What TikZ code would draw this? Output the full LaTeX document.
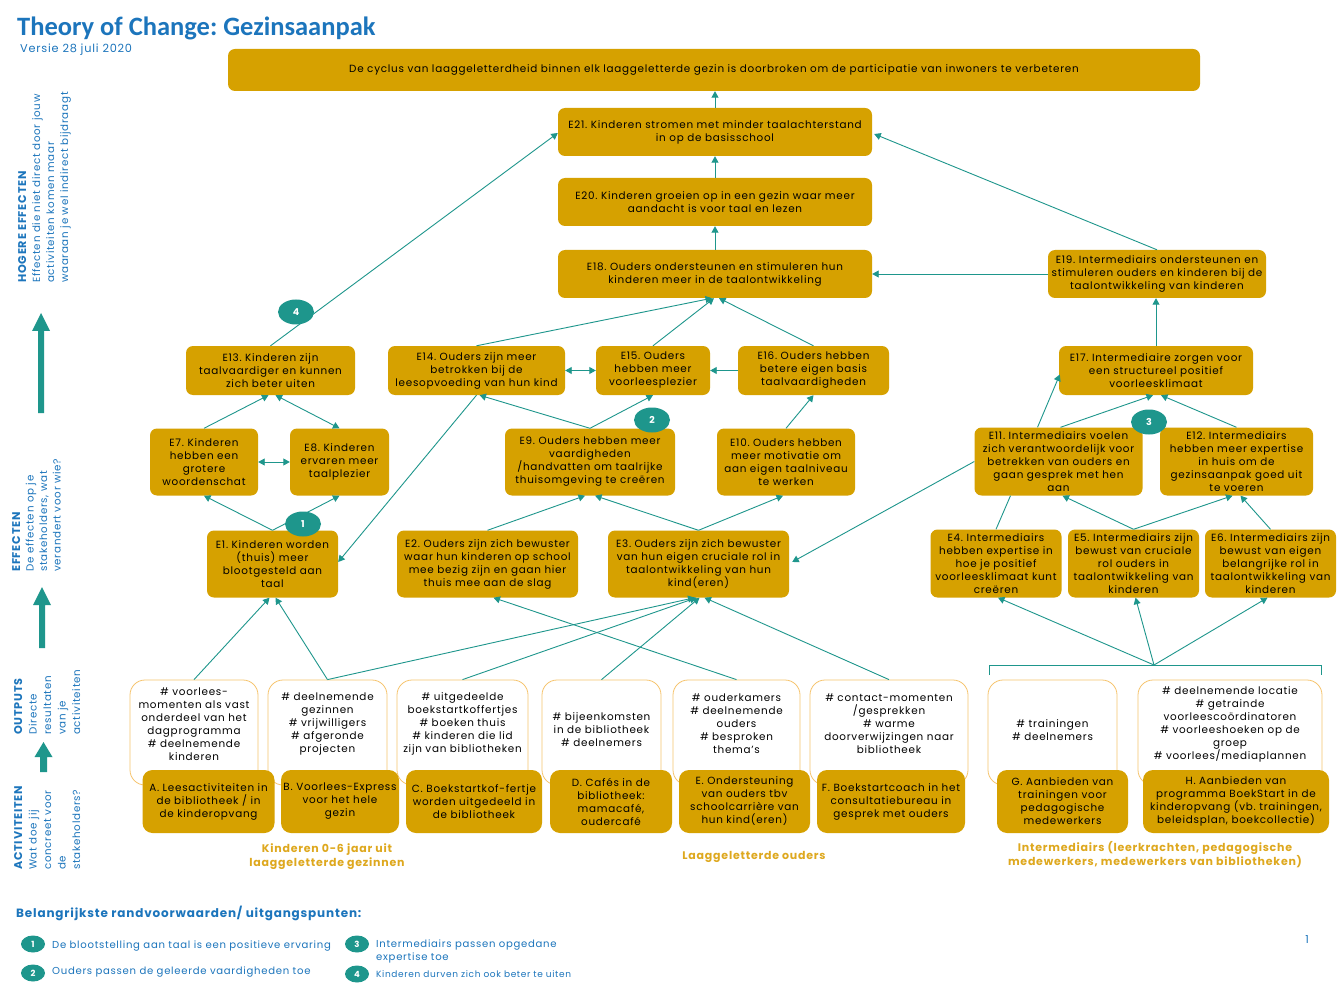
\documentclass[tikz,border=0pt]{standalone}
\usepackage{fontspec}
\setmainfont{Poppins}[LetterSpace=7]
\newfontfamily\titlefont{Carlito}
\usetikzlibrary{arrows.meta,calc,shapes.geometric}
\definecolor{gold}{RGB}{214,161,0}
\definecolor{tealc}{RGB}{30,150,140}
\definecolor{blueT}{RGB}{28,117,188}
\definecolor{oborder}{RGB}{246,196,110}
\definecolor{glabel}{RGB}{222,168,30}
\frenchspacing
\begin{document}
\begin{tikzpicture}[x=1pt,y=-1pt,
  gbox/.style={fill=gold, rounded corners=7pt, align=center, inner sep=0pt, text=black, font=\fontsize{10.4}{13}\selectfont},
  abox/.style={gbox, rounded corners=10pt},
  obox/.style={draw=oborder, line width=0.8pt, fill=white, rounded corners=15pt, inner sep=0pt},
  otext/.style={align=center, inner sep=0pt, font=\fontsize{10.4}{13}\selectfont},
  con/.style={draw=tealc, line width=0.9pt, -{Triangle[length=6.5pt,width=7pt]}},
  contwo/.style={draw=tealc, line width=0.9pt, {Triangle[length=6.5pt,width=7pt]}-{Triangle[length=6.5pt,width=7pt]}},
  plainline/.style={draw=tealc, line width=0.9pt},
  num/.style={ellipse, fill=tealc, text=white, font=\bfseries\fontsize{9.5}{9.5}\selectfont, minimum width=36pt, minimum height=25pt, inner sep=0pt},
  lnum/.style={ellipse, fill=tealc, text=white, font=\bfseries\fontsize{8.5}{8.5}\selectfont, minimum width=24pt, minimum height=17pt, inner sep=0pt},
  sidelbl/.style={rotate=90, anchor=north west, align=left, inner sep=0pt, text=blueT},
  grp/.style={align=center, inner sep=0pt, text=glabel, font=\bfseries\fontsize{11}{14.5}\selectfont},
  legtxt/.style={anchor=base west, inner sep=0pt, text=blueT, align=left, font=\fontsize{10.1}{13}\selectfont}
]
\useasboundingbox (0,0) rectangle (1344,1008);
\fill[white] (0,0) rectangle (1344,1008);

% ---------- titles ----------
\node[anchor=base west, inner sep=0pt, text=blueT, font=\titlefont\bfseries\fontsize{26.5}{26.5}\selectfont] (title) at (17,36) {Theory of Change: Gezinsaanpak};
\node[anchor=base west, inner sep=0pt, text=blueT, font=\fontsize{11.3}{11.3}\selectfont] (versie) at (20,53) {Versie 28 juli 2020};

% ---------- side labels ----------
\node[sidelbl, font=\fontsize{10.3}{14}\selectfont] (lblH) at (18,283) {{\fontsize{11.2}{14}\selectfont\bfseries HOGERE EFFECTEN}\\Effecten die niet direct door jouw\\activiteiten komen maar\\waaraan je wel indirect bijdraagt};
\node[sidelbl, font=\fontsize{10.3}{13.5}\selectfont] (lblE) at (12,572) {{\fontsize{11.2}{13.5}\selectfont\bfseries EFFECTEN}\\De effecten op je\\stakeholders, wat\\verandert voor wie?};
\node[sidelbl, font=\fontsize{10.3}{14.5}\selectfont] (lblO) at (14,735) {{\fontsize{11.2}{14.5}\selectfont\bfseries OUTPUTS}\\Directe\\resultaten\\van je\\activiteiten};
\node[sidelbl, font=\fontsize{10.3}{14.5}\selectfont] (lblA) at (14,870) {{\fontsize{11.2}{14.5}\selectfont\bfseries ACTIVITEITEN}\\Wat doe jij\\concreet voor\\de\\stakeholders?};

\fill[tealc] (38,413) -- (38,331) -- (32,331) -- (41,313) -- (50,331) -- (44,331) -- (44,413) -- cycle;
\fill[tealc] (39,648) -- (39,605) -- (33,605) -- (42,587) -- (51,605) -- (45,605) -- (45,648) -- cycle;
\fill[tealc] (40,772) -- (40,757) -- (34.5,757) -- (43.5,742) -- (52.5,757) -- (47,757) -- (47,772) -- cycle;

% ---------- higher effects ----------
\node[gbox, minimum width=972pt, minimum height=42pt] (top) at (714,70) {De cyclus van laaggeletterdheid binnen elk laaggeletterde gezin is doorbroken om de participatie van inwoners te verbeteren};
\node[gbox, minimum width=314pt, minimum height=48pt] (E21) at (715,132) {E21. Kinderen stromen met minder taalachterstand\\in op de basisschool};
\node[gbox, minimum width=314pt, minimum height=48pt] (E20) at (715,202) {E20. Kinderen groeien op in een gezin waar meer\\aandacht is voor taal en lezen};
\node[gbox, minimum width=314pt, minimum height=48pt] (E18) at (715,274) {E18. Ouders ondersteunen en stimuleren hun\\kinderen meer in de taalontwikkeling};
\node[gbox, minimum width=218pt, minimum height=48pt] (E19) at (1157,274) {E19. Intermediairs ondersteunen en\\stimuleren ouders en kinderen bij de\\taalontwikkeling van kinderen};

% ---------- effects ----------
\node[gbox, minimum width=169pt, minimum height=49pt] (E13) at (270.5,370.5) {E13. Kinderen zijn\\taalvaardiger en kunnen\\zich beter uiten};
\node[gbox, minimum width=177pt, minimum height=49pt] (E14) at (476.5,370.5) {E14. Ouders zijn meer\\betrokken bij de\\leesopvoeding van hun kind};
\node[gbox, minimum width=114pt, minimum height=49pt] (E15) at (653,370.5) {E15. Ouders\\hebben meer\\voorleesplezier};
\node[gbox, minimum width=151pt, minimum height=49pt] (E16) at (813.5,370.5) {E16. Ouders hebben\\betere eigen basis\\taalvaardigheden};
\node[gbox, minimum width=194pt, minimum height=49pt] (E17) at (1156,370.5) {E17. Intermediaire zorgen voor\\een structureel positief\\voorleesklimaat};

\node[gbox, minimum width=108pt, minimum height=67pt] (E7) at (204,462) {E7. Kinderen\\hebben een\\grotere\\woordenschat};
\node[gbox, minimum width=99pt, minimum height=67pt] (E8) at (339.5,462) {E8. Kinderen\\ervaren meer\\taalplezier};
\node[gbox, minimum width=170pt, minimum height=67pt] (E9) at (590,462) {E9. Ouders hebben meer\\vaardigheden\\/handvatten om taalrijke\\thuisomgeving te creëren};
\node[gbox, minimum width=138pt, minimum height=67pt] (E10) at (786,462) {E10. Ouders hebben\\meer motivatie om\\aan eigen taalniveau\\te werken};
\node[gbox, minimum width=168pt, minimum height=68pt] (E11) at (1058.5,461.5) {E11. Intermediairs voelen\\zich verantwoordelijk voor\\betrekken van ouders en\\gaan gesprek met hen\\aan};
\node[gbox, minimum width=153pt, minimum height=68pt] (E12) at (1236.5,461.5) {E12. Intermediairs\\hebben meer expertise\\in huis om de\\gezinsaanpak goed uit\\te voeren};

\node[gbox, minimum width=131pt, minimum height=67pt] (E1) at (272.5,564) {E1. Kinderen worden\\(thuis) meer\\blootgesteld aan\\taal};
\node[gbox, minimum width=181pt, minimum height=67pt] (E2) at (487.5,564) {E2. Ouders zijn zich bewuster\\waar hun kinderen op school\\mee bezig zijn en gaan hier\\thuis mee aan de slag};
\node[gbox, minimum width=181pt, minimum height=67pt] (E3) at (698.5,564) {E3. Ouders zijn zich bewuster\\van hun eigen cruciale rol in\\taalontwikkeling van hun\\kind(eren)};
\node[gbox, minimum width=131pt, minimum height=68pt] (E4) at (996,563.5) {E4. Intermediairs\\hebben expertise in\\hoe je positief\\voorleesklimaat kunt\\creëren};
\node[gbox, minimum width=131pt, minimum height=68pt] (E5) at (1133.5,563.5) {E5. Intermediairs zijn\\bewust van cruciale\\rol ouders in\\taalontwikkeling van\\kinderen};
\node[gbox, minimum width=131pt, minimum height=68pt] (E6) at (1270.5,563.5) {E6. Intermediairs zijn\\bewust van eigen\\belangrijke rol in\\taalontwikkeling van\\kinderen};

% ---------- outputs ----------
\node[obox, minimum width=128pt, minimum height=105pt] (O1) at (194,732.5) {};
\node[obox, minimum width=119pt, minimum height=105pt] (O2) at (327.5,732.5) {};
\node[obox, minimum width=131pt, minimum height=105pt] (O3) at (462.5,732.5) {};
\node[obox, minimum width=119pt, minimum height=105pt] (O4) at (601.5,732.5) {};
\node[obox, minimum width=127pt, minimum height=105pt] (O5) at (736.5,732.5) {};
\node[obox, minimum width=158pt, minimum height=105pt] (O6) at (889,732.5) {};
\node[obox, minimum width=129pt, minimum height=105pt] (O7) at (1052.5,732.5) {};
\node[obox, minimum width=184pt, minimum height=105pt] (O8) at (1230,732.5) {};

\node[otext] (O1t) at (194,724) {\# voorlees-\\momenten als vast\\onderdeel van het\\dagprogramma\\\# deelnemende\\kinderen};
\node[otext] (O2t) at (327.5,724) {\# deelnemende\\gezinnen\\\# vrijwilligers\\\# afgeronde\\projecten};
\node[otext] (O3t) at (462.5,724) {\# uitgedeelde\\boekstartkoffertjes\\\# boeken thuis\\\# kinderen die lid\\zijn van bibliotheken};
\node[otext] (O4t) at (601.5,730) {\# bijeenkomsten\\in de bibliotheek\\\# deelnemers};
\node[otext] (O5t) at (736.5,724) {\# ouderkamers\\\# deelnemende\\ouders\\\# besproken\\thema’s};
\node[otext] (O6t) at (889,724) {\# contact-momenten\\/gesprekken\\\# warme\\doorverwijzingen naar\\bibliotheek};
\node[otext] (O7t) at (1052.5,730) {\# trainingen\\\# deelnemers};
\node[otext] (O8t) at (1230,724) {\# deelnemende locatie\\\# getrainde\\voorleescoördinatoren\\\# voorleeshoeken op de\\groep\\\# voorlees/mediaplannen};

% ---------- activities ----------
\node[abox, minimum width=132pt, minimum height=63pt] (A) at (208.5,801.5) {A. Leesactiviteiten in\\de bibliotheek / in\\de kinderopvang};
\node[abox, minimum width=118pt, minimum height=63pt] (B) at (340,801.5) {B. Voorlees-Express\\voor het hele\\gezin};
\node[abox, minimum width=136pt, minimum height=63pt] (C) at (474,801.5) {C. Boekstartkof-fertje\\worden uitgedeeld in\\de bibliotheek};
\node[abox, minimum width=122pt, minimum height=63pt] (D) at (611,801.5) {D. Cafés in de\\bibliotheek:\\mamacafé,\\oudercafé};
\node[abox, minimum width=131pt, minimum height=63pt] (Eact) at (744.5,801.5) {E. Ondersteuning\\van ouders tbv\\schoolcarrière van\\hun kind(eren)};
\node[abox, minimum width=148pt, minimum height=63pt] (F) at (891,801.5) {F. Boekstartcoach in het\\consultatiebureau in\\gesprek met ouders};
\node[abox, minimum width=131pt, minimum height=63pt] (G) at (1062.5,801.5) {G. Aanbieden van\\trainingen voor\\pedagogische\\medewerkers};
\node[abox, minimum width=186pt, minimum height=63pt] (H) at (1236,801.5) {H. Aanbieden van\\programma BoekStart in de\\kinderopvang (vb. trainingen,\\beleidsplan, boekcollectie)};

\node[grp] (g1) at (327,856.5) {Kinderen 0-6 jaar uit\\laaggeletterde gezinnen};
\node[grp] (g2) at (754,857) {Laaggeletterde ouders};
\node[grp] (g3) at (1155,854.5) {Intermediairs (leerkrachten, pedagogische\\medewerkers, medewerkers van bibliotheken)};

% ---------- connectors ----------
\draw[con] (E21.north) -- (E21.north |- top.south);
\draw[con] (E20.north) -- (E21.south);
\draw[con] (E18.north) -- (E20.south);
\draw[con] (E19.west) -- (E18.east);
\draw[con] (E19.north) -- ($(E21.east)+(2,2)$);
\draw[con] (E13.north) -- ($(E21.west)+(0,1)$);
\draw[con] (E17.north) -- (E17.north |- E19.south);
\draw[con] (E14.north) -- ($(E18.south)+(-3,0)$);
\draw[con] (E15.north) -- ($(E18.south)+(-1,0)$);
\draw[con] (E16.north) -- ($(E18.south)+(4,0)$);
\draw[contwo] (E14.east) -- (E15.west);
\draw[con] (E16.west) -- (E15.east);
\draw[con] (E7.north) -- ($(E13.south)+(-2,0)$);
\draw[contwo] ($(E13.south)+(5,0)$) -- (E8.north);
\draw[contwo] (E7.east) -- (E8.west);
\draw[con] (E1.north) -- (E7.south);
\draw[con] (E1.north) -- (E8.south);
\draw[con] (E14.south) -- ($(E1.east)+(0,-2)$);
\draw[con] (E9.north) -- ($(E14.south)+(3,0)$);
\draw[con] (E9.north) -- (E15.south);
\draw[con] (E10.north) -- (E16.south);
\draw[con] (E2.north) -- ($(E9.south)+(-5,0)$);
\draw[con] (E3.north) -- ($(E9.south)+(5,0)$);
\draw[con] (E3.north) -- ($(E10.south)+(-3,0)$);
\draw[con] (E11.west) -- ($(E3.east)+(3,-2)$);
\draw[con] ($(E11.north)+(-21,0)$) -- ($(E17.west)+(1,4)$);
\draw[con] ($(E11.north)+(2,0)$) -- ($(E17.south)+(-3,0)$);
\draw[con] (E12.north) -- ($(E17.south)+(5,0)$);
\draw[plainline] (E4.north) -- ($(E11.south)+(-48,0)$);
\draw[con] (E5.north) -- ($(E11.south)+(4,0)$);
\draw[con] (E5.north) -- ($(E12.south)+(-4,0)$);
\draw[con] (E6.north) -- ($(E12.south)+(4,0)$);

\coordinate (brL) at (989,665);
\coordinate (brR) at (1321,665);
\coordinate (brC) at (1154,665);
\draw[plainline] ($(brL)+(0,10)$) -- (brL) -- (brR) -- ($(brR)+(0,10)$);
\draw[con] (brC) -- ($(E4.south)+(2,0)$);
\draw[con] (brC) -- ($(E5.south)+(2,0)$);
\draw[con] (brC) -- ($(E6.south)+(-3,0)$);

\draw[con] (O1.north) -- ($(E1.south)+(-3,0)$);
\draw[con] (O2.north) -- ($(E1.south)+(3,0)$);
\draw[con] (O2.north) -- ($(E3.south)+(-4,0)$);
\draw[con] (O3.north) -- ($(E3.south)+(-2,0)$);
\draw[con] (O4.north) -- ($(E3.south)+(1,0)$);
\draw[con] (O5.north) -- ($(E2.south)+(6,0)$);
\draw[con] (O6.north) -- ($(E3.south)+(6,0)$);

% ---------- numbered markers ----------
\node[num] (c4) at (296,312) {4};
\node[num] (c1) at (303,524) {1};
\node[num] (c2) at (652,420) {2};
\node[num] (c3) at (1149,422) {3};

% ---------- legend ----------
\node[anchor=base west, inner sep=0pt, text=blueT, font=\bfseries\fontsize{12}{12}\selectfont] (legtitle) at (16,917) {Belangrijkste randvoorwaarden/ uitgangspunten:};
\node[lnum] (l1) at (33,944) {1};
\node[lnum] (l2) at (33,973) {2};
\node[lnum] (l3) at (357,944) {3};
\node[lnum] (l4) at (357,974) {4};
\node[legtxt] (l1t) at (52,948) {De blootstelling aan taal is een positieve ervaring};
\node[legtxt] (l2t) at (52,974) {Ouders passen de geleerde vaardigheden toe};
\node[legtxt] (l3t) at (376,960) {Intermediairs passen opgedane\\expertise toe};
\node[legtxt, font=\fontsize{9}{13}\selectfont] (l4t) at (376,977) {Kinderen durven zich ook beter te uiten};
\node[anchor=base, inner sep=0pt, text=blueT, font=\fontsize{11}{11}\selectfont] (pagenum) at (1307,943) {1};
\end{tikzpicture}
\end{document}
